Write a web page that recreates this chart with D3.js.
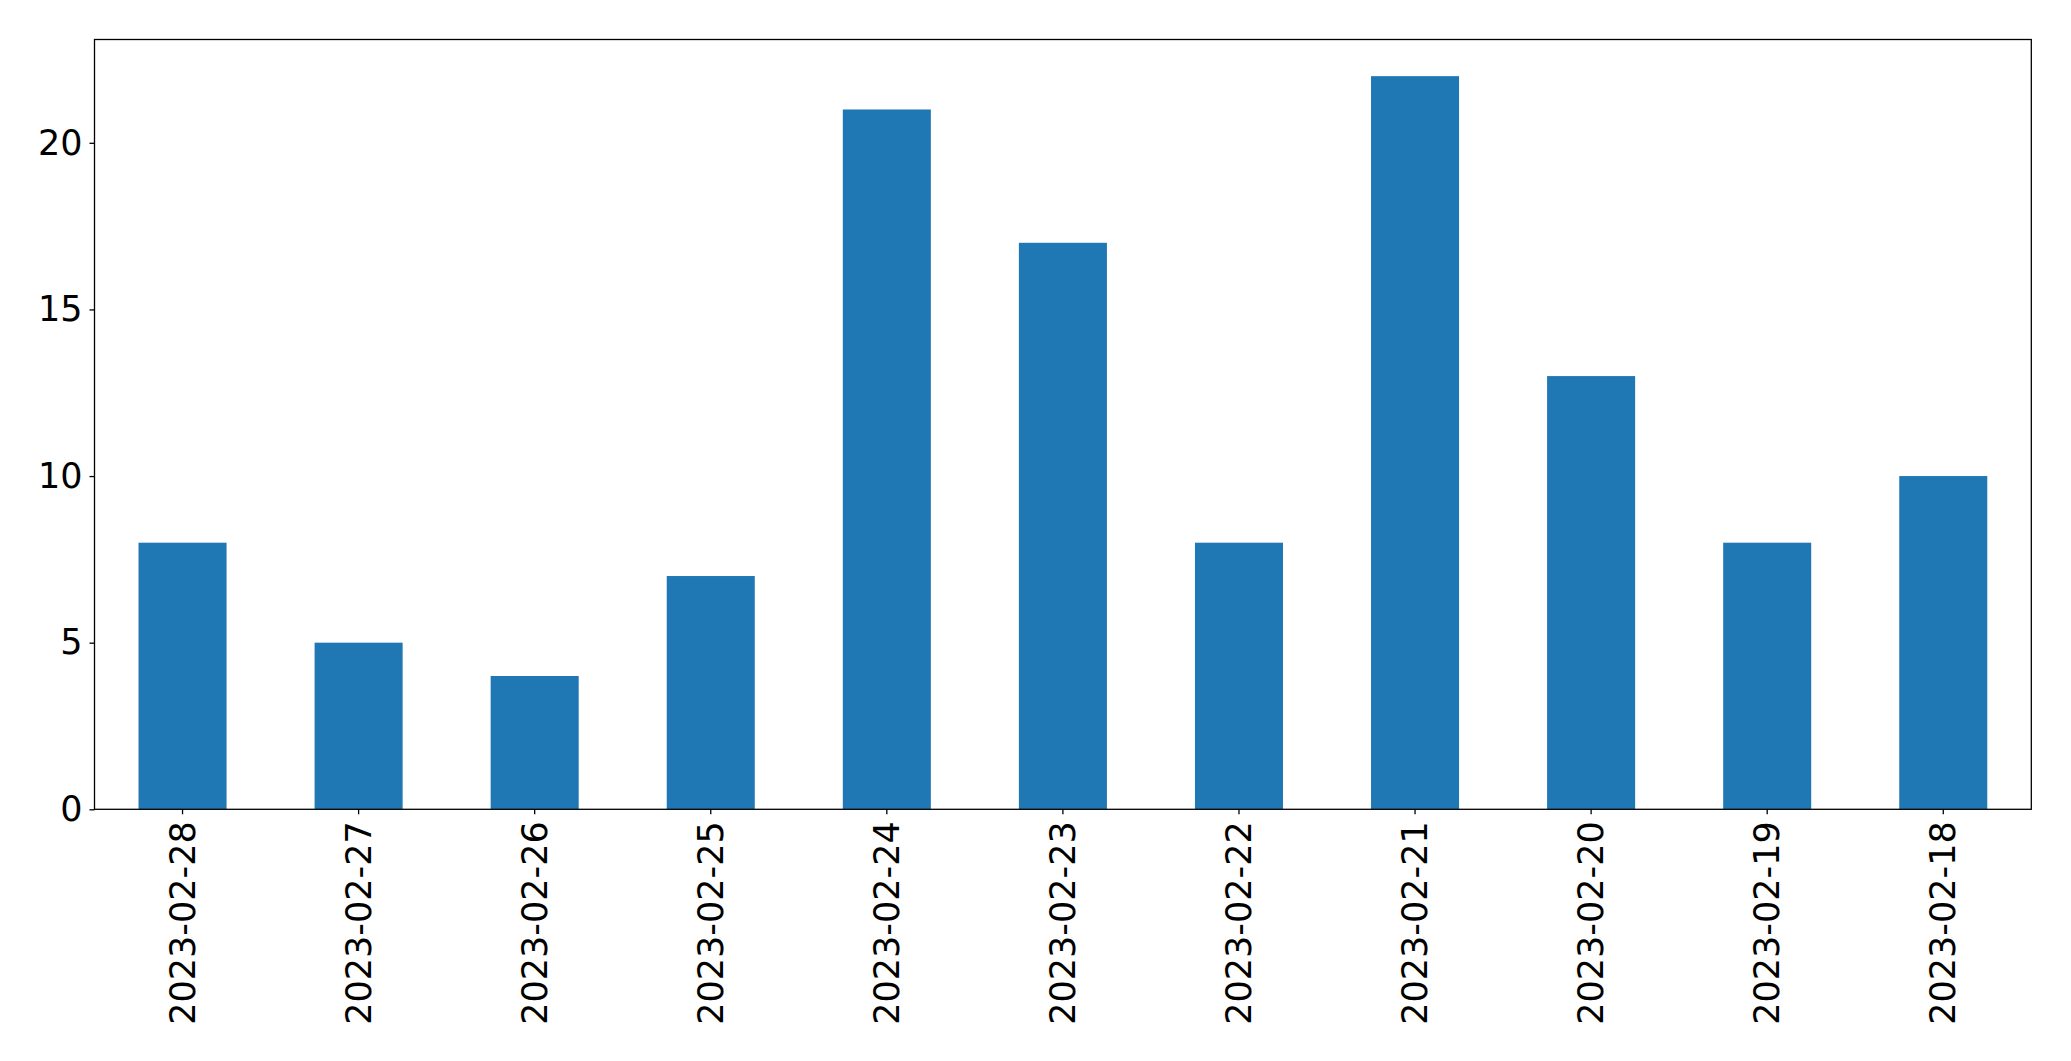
<!DOCTYPE html>
<html>
<head>
<meta charset="utf-8">
<script src="https://cdn.jsdelivr.net/npm/d3@7"></script>
<style>
html,body{margin:0;padding:0;background:#fff;}
svg{display:block;}
</style>
</head>
<body>
<script>
const categories = ["2023-02-28","2023-02-27","2023-02-26","2023-02-25","2023-02-24","2023-02-23","2023-02-22","2023-02-21","2023-02-20","2023-02-19","2023-02-18"];
const values = [8,5,4,7,21,17,8,22,13,8,10];
const yTicks = [0,5,10,15,20];

const W = 2071, H = 1061;
const m = {left:94.5, top:39.5, right:2071-2031.3, bottom:1061-809.3};
const iw = W - m.left - m.right, ih = H - m.top - m.bottom;

const svg = d3.select("body").append("svg").attr("width",W).attr("height",H);
const g = svg.append("g").attr("transform",`translate(${m.left},${m.top})`);

const x = d3.scaleBand().domain(categories).range([0,iw]).paddingInner(0.5).paddingOuter(0.25);
const y = d3.scaleLinear().domain([0, d3.max(values)*1.05]).range([ih,0]);

g.selectAll("rect.bar").data(values).join("rect")
  .attr("class","bar")
  .attr("x",(d,i)=>x(categories[i]))
  .attr("width",x.bandwidth())
  .attr("y",d=>y(d))
  .attr("height",d=>ih-y(d))
  .attr("fill","#1f77b4");

const font = "'DejaVu Sans', sans-serif";
const fs = 35;

const yAxis = g.append("g").call(d3.axisLeft(y).tickValues(yTicks).tickSize(5).tickPadding(7).tickFormat(d3.format("d")));
yAxis.select(".domain").remove();
yAxis.selectAll("line").attr("stroke","#000").attr("stroke-width",1.3);
yAxis.selectAll("text").attr("font-family",font).attr("font-size",fs).attr("fill","#000");

const xAxis = g.append("g").attr("transform",`translate(0,${ih})`).call(d3.axisBottom(x).tickSize(5).tickPadding(0));
xAxis.select(".domain").remove();
xAxis.selectAll("line").attr("stroke","#000").attr("stroke-width",1.3);
xAxis.selectAll("text")
  .attr("font-family",font).attr("font-size",fs).attr("fill","#000")
  .attr("text-anchor","end")
  .attr("dy",null)
  .attr("dominant-baseline","central")
  .attr("transform","translate(0,12) rotate(-90)")
  .attr("x",0).attr("y",0);

g.append("rect").attr("x",0).attr("y",0).attr("width",iw).attr("height",ih)
  .attr("fill","none").attr("stroke","#000").attr("stroke-width",1.3);
</script>
</body>
</html>
